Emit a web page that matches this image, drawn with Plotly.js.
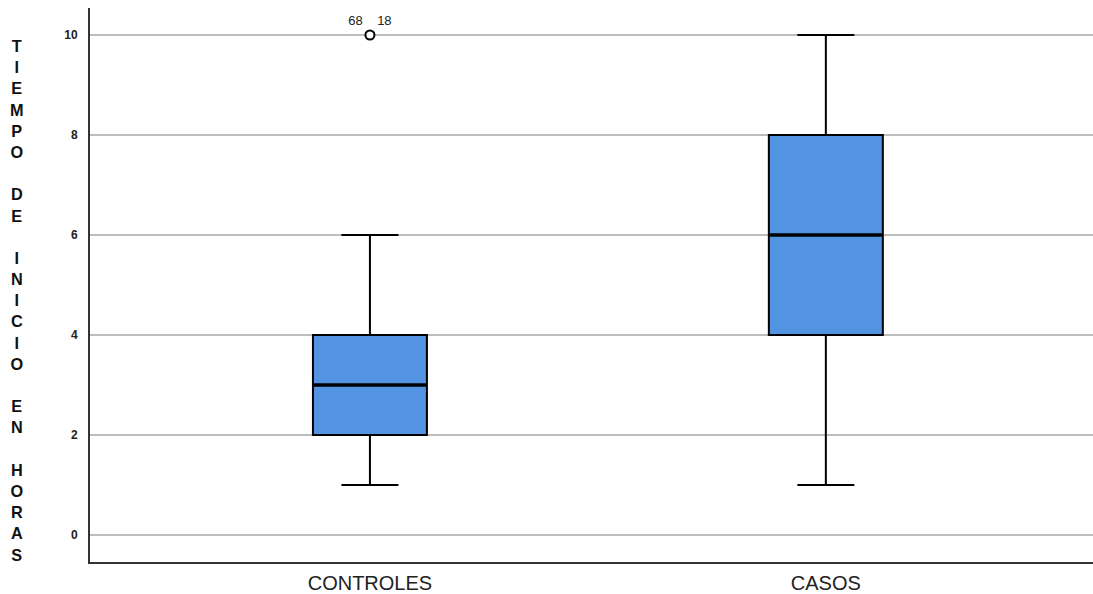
<!DOCTYPE html>
<html>
<head>
<meta charset="utf-8">
<script src="https://cdn.plot.ly/plotly-3.0.1.min.js"></script>
<style>html,body{margin:0;padding:0;background:#fff;}#chart{width:1093px;height:594px;}</style>
</head>
<body>
<div id="chart"></div>
<script>
const categories = ["CONTROLES", "CASOS"];
const lowerWhisker = [1, 1];
const q1Values = [2, 4];
const medianValues = [3, 6];
const q3Values = [4, 8];
const upperWhisker = [6, 10];
const outlierCategory = ["CONTROLES"];
const outlierValues = [10];
const outlierLabels = ["68    18"];
const yTicks = [0, 2, 4, 6, 8, 10];
const yTitleText = "TIEMPO DE INICIO EN HORAS";

const boxTrace = {
  type: "box",
  x: categories,
  q1: q1Values,
  median: medianValues,
  q3: q3Values,
  lowerfence: lowerWhisker,
  upperfence: upperWhisker,
  width: 0.25,
  whiskerwidth: 0.5,
  fillcolor: "#5294e2",
  line: {color: "#000000", width: 2},
  boxpoints: false,
  hoverinfo: "skip",
  showlegend: false
};

// thicker median bar drawn over the box
const medianTrace = {
  type: "scatter",
  mode: "markers",
  x: categories,
  y: medianValues,
  marker: {symbol: "line-ew-open", size: 80, color: "#000000", line: {color: "#000000", width: 3.5}},
  hoverinfo: "skip",
  showlegend: false
};

const outlierTrace = {
  type: "scatter",
  mode: "markers+text",
  x: outlierCategory,
  y: outlierValues,
  text: outlierLabels,
  textposition: "top center",
  textfont: {family: "Liberation Sans, Arial, sans-serif", size: 13, color: "#222"},
  marker: {symbol: "circle", size: 9, color: "#ffffff", line: {color: "#000000", width: 2}},
  hoverinfo: "skip",
  showlegend: false,
  cliponaxis: false
};

// stacked vertical title
const words = yTitleText.split(" ");
const lines = [];
words.forEach((w, i) => {
  w.split("").forEach(ch => lines.push(ch));
  if (i < words.length - 1) lines.push("&nbsp;");
});

const layout = {
  width: 1093,
  height: 594,
  margin: {l: 90, r: 0, t: 8, b: 32},
  paper_bgcolor: "#ffffff",
  plot_bgcolor: "#ffffff",
  font: {family: "Liberation Sans, Arial, sans-serif", color: "#222"},
  xaxis: {
    type: "category",
    range: [-0.614, 1.586],
    showgrid: false,
    zeroline: false,
    showline: true,
    linecolor: "#333333",
    linewidth: 2,
    ticks: "",
    tickfont: {size: 20, color: "#222"},
    ticklabelstandoff: 2
  },
  yaxis: {
    range: [-0.54, 10.54],
    tickvals: yTicks,
    ticktext: yTicks.map(v => "<b>" + v + "</b>"),
    tickfont: {size: 12, color: "#222"},
    showgrid: true,
    gridcolor: "#bdbdbd",
    gridwidth: 2,
    zeroline: false,
    showline: true,
    linecolor: "#333333",
    linewidth: 2,
    ticks: "",
    ticklabelstandoff: 8
  },
  annotations: [{
    text: lines.map(c => "<b>" + c + "</b>").join("<br>"),
    xref: "paper", yref: "paper",
    x: -0.0728, y: 0.472,
    xanchor: "center", yanchor: "middle",
    showarrow: false,
    align: "center",
    font: {size: 16.3, color: "#111", family: "Liberation Sans, Arial, sans-serif"}
  }]
};

Plotly.newPlot("chart", [boxTrace, medianTrace, outlierTrace], layout, {displayModeBar: false, staticPlot: true});
</script>
</body>
</html>
